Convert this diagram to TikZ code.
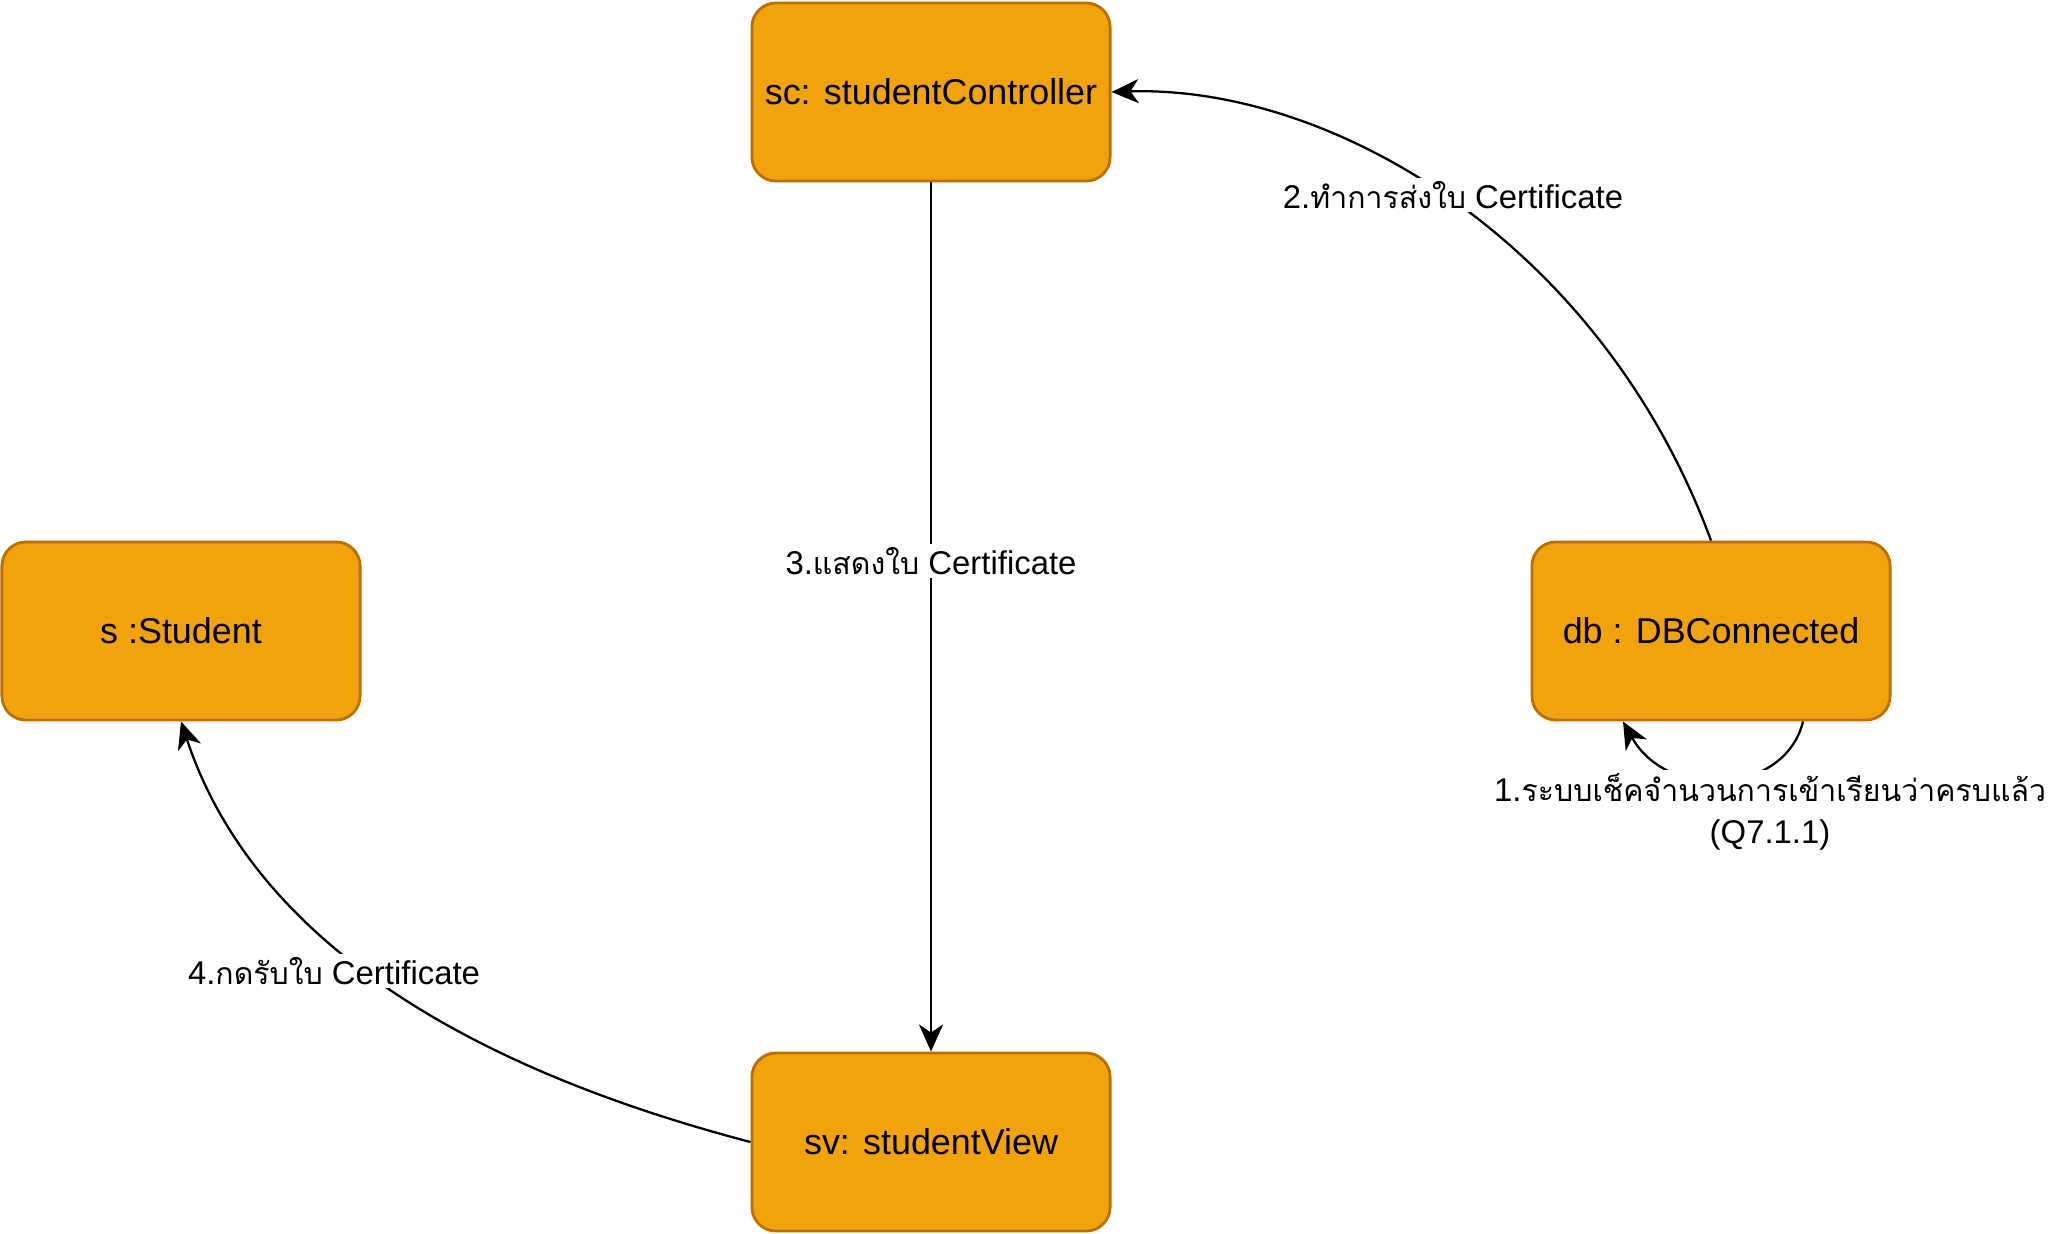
\documentclass[tikz,border=0pt]{standalone}
\usepackage{fontspec}
\setmainfont{Liberation Sans}
\newfontfamily\thaifont[Script=Thai, Scale=0.92]{Loma}
\usetikzlibrary{arrows.meta}
\definecolor{boxfill}{HTML}{F0A30A}
\definecolor{boxline}{HTML}{BD7000}

\begin{document}
\begin{tikzpicture}[x=0.01cm, y=-0.01cm]
 \useasboundingbox[fill=white] (0,0) rectangle (2052,1233);
 \begin{scope}[every node/.append style={rectangle, rounded corners=0.24cm, draw=boxline, line width=0.8pt, fill=boxfill, minimum width=3.58cm, minimum height=1.78cm, font=\fontsize{10.2}{12}\selectfont}]
    \node (sc) at (931, 92) {sc: studentController};
    \node (s) at (181, 631) {s :Student};
    \node (db) at (1711, 631) {db : DBConnected};
    \node (sv) at (931, 1142) {sv: studentView};
 \end{scope}

 \begin{scope}[every path/.style={-{Stealth[length=0.27cm, width=0.24cm, inset=0.08cm]}, line width=0.65pt}]
    \draw (db.south -| 1803, 0) .. controls (1785, 795) and (1668, 802) .. (db.south -| 1623, 0);
    \draw (db.north) .. controls (1600, 240) and (1330, 85) .. (sc.east);
    \draw (sc.south) -- (sv.north);
    \draw (sv.west) .. controls (400, 1050) and (240, 900) .. (s.south);
 \end{scope}

 \begin{scope}[every node/.append style={fill=white, inner sep=1pt, align=center, font=\fontsize{9.35}{12}\selectfont}]
    \node (m1) at (1770, 812) {1.{\thaifont ระบบเช็คจำนวนการเข้าเรียนว่าครบแล้ว}\\(Q7.1.1)};
    \node (m2) at (1453, 195) {2.{\thaifont ทำการส่งใบ} Certificate};
    \node (m3) at (931, 561) {3.{\thaifont แสดงใบ} Certificate};
    \node (m4) at (334, 971) {4.{\thaifont กดรับใบ} Certificate};
 \end{scope}
\end{tikzpicture}
\end{document}
